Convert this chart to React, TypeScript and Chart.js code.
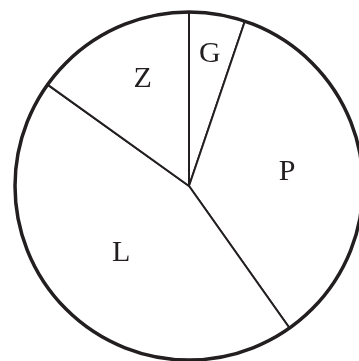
import React, { useEffect, useRef } from "react";
import { Chart, registerables } from "chart.js";

Chart.register(...registerables);

const categories = ["G", "P", "L", "Z"];
const values = [5.2, 35.0, 44.7, 15.1];
// label placement (style only): distance from centre as fraction of radius,
// and angular position within the slice as fraction
const labelRadius = [0.77, 0.57, 0.55, 0.67];
const labelAngleFrac = [0.48, 0.5, 0.5, 0.57];

const INK = "#231f20";

const outlineAndLabels = {
  id: "outlineAndLabels",
  afterDatasetsDraw(chart: any) {
    const meta = chart.getDatasetMeta(0);
    const arcs = meta.data;
    if (!arcs.length) return;
    const ctx = chart.ctx;
    const { x, y, outerRadius } = arcs[0].getProps(["x", "y", "outerRadius"], true);
    ctx.save();
    ctx.beginPath();
    ctx.arc(x, y, outerRadius, 0, Math.PI * 2);
    ctx.lineWidth = 3.5;
    ctx.strokeStyle = INK;
    ctx.stroke();
    ctx.fillStyle = INK;
    ctx.font = '30px "Liberation Serif", "Times New Roman", serif';
    ctx.textAlign = "center";
    ctx.textBaseline = "middle";
    arcs.forEach((arc: any, i: number) => {
      const p = arc.getProps(["startAngle", "endAngle"], true);
      const a = p.startAngle + (p.endAngle - p.startAngle) * labelAngleFrac[i];
      const r = outerRadius * labelRadius[i];
      ctx.fillText(categories[i], x + Math.cos(a) * r, y + Math.sin(a) * r);
    });
    ctx.restore();
  },
};

export default function App() {
  const ref = useRef<HTMLCanvasElement>(null);
  useEffect(() => {
    document.documentElement.style.overflow = "hidden";
    document.body.style.overflow = "hidden";
    document.body.style.margin = "0";
    document.body.style.background = "#ffffff";
    const chart = new Chart(ref.current!, {
      type: "pie",
      data: {
        labels: categories,
        datasets: [
          {
            data: values,
            backgroundColor: "#ffffff",
            borderColor: INK,
            borderWidth: 2,
            hoverOffset: 0,
          },
        ],
      },
      options: {
        responsive: false,
        animation: false,
        devicePixelRatio: 1,
        radius: 174,
        layout: { padding: 0 },
        plugins: {
          legend: { display: false },
          tooltip: { enabled: false },
        },
      },
      plugins: [outlineAndLabels],
    });
    return () => chart.destroy();
  }, []);
  return (
    <div style={{ position: "fixed", left: 0, top: 0, width: 378, height: 372 }}>
      <canvas ref={ref} width={378} height={372} style={{ width: 378, height: 372 }} />
    </div>
  );
}
